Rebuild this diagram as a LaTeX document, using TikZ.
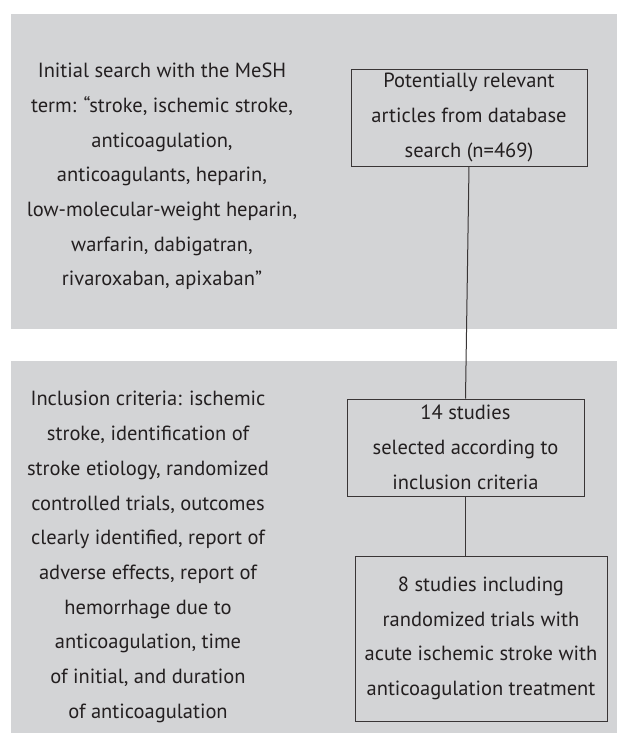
\documentclass[tikz,border=0pt]{standalone}
\usepackage{fontspec}
\setmainfont{PT Sans}
\usetikzlibrary{positioning, calc}
\definecolor{panelgray}{HTML}{D3D4D6}
\definecolor{inkgray}{HTML}{231F20}

\begin{document}
\begin{tikzpicture}[
		x=1pt, y=-1pt,
		panel/.style = {fill=panelgray, rectangle, inner sep=0pt, minimum width=606pt},
		% Texto de los paneles grises
		panel_text/.style = {align=center, text=inkgray, inner sep=0pt, font=\fontsize{20.5}{34.7}\selectfont},
		box/.style = {draw=inkgray!90, line width=1pt, rectangle, inner sep=0pt, align=center, text=inkgray, font=\fontsize{20.5}{34.7}\selectfont},
		link/.style = {draw=inkgray!90, line width=1pt}
		]
		\useasboundingbox (0,0) rectangle (617,737);
		
		% --- PANELES DE FONDO ---
		\node [panel, minimum height=315pt] (search_panel)   at (314, 171.5) {};
		\node [panel, minimum height=372pt] (criteria_panel) at (314, 547) {};
		
		% --- TEXTO DE BUSQUEDA ---
		\node [panel_text] (search_text) at (162, 176.5) {Initial search with the MeSH \\ term: “stroke, ischemic stroke, \\ anticoagulation, \\ anticoagulants, heparin, \\ low-molecular-weight heparin, \\ warfarin, dabigatran, \\ rivaroxaban, apixaban”};
		
		% --- CRITERIOS DE INCLUSION ---
		\node [panel_text] (criteria_text) at (148, 557) {Inclusion criteria: ischemic \\ stroke, identification of \\ stroke etiology, randomized \\ controlled trials, outcomes \\ clearly identified, report of \\ adverse effects, report of \\ hemorrhage due to \\ anticoagulation, time \\ of initial, and duration \\ of anticoagulation};
		
		% --- CAJAS DEL FLUJO ---
		\node [box, minimum width=236pt, minimum height=97pt]  (relevant) at (469, 117.5) {Potentially relevant \\ articles from database \\ search (n=469)};
		\node [box, minimum width=237pt, minimum height=97pt]  (selected) at (465.5, 447.5) {14 studies \\ selected according to \\ inclusion criteria};
		\node [box, minimum width=252pt, minimum height=165pt] (included) at (481, 638.5) {8 studies including \\ randomized trials with \\ acute ischemic stroke with \\ anticoagulation treatment};
		
		% --- CONEXIONES ---
		\draw [link] (relevant.south) -- (selected.north);
		\draw [link] (selected.south) -- (selected.south |- included.north);
		
	\end{tikzpicture}
\end{document}
